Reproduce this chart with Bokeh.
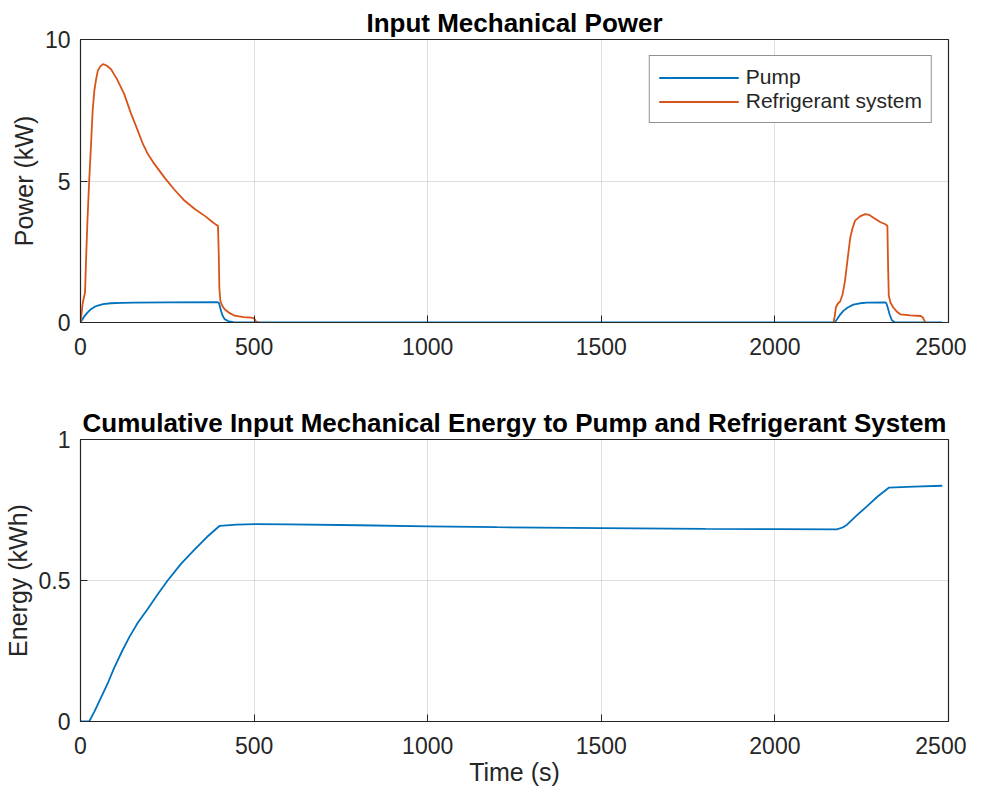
from bokeh.plotting import figure
from bokeh.layouts import column
from bokeh.models import FixedTicker, Range1d, Legend, LegendItem, NumeralTickFormatter
from bokeh.embed import file_html
from bokeh.resources import INLINE

# ---- data ----
time_ref = [0, 3, 6, 10, 13, 16, 20, 25, 30, 35, 40, 45, 50, 57, 65, 75, 88, 105, 126, 145,
            165, 180, 194, 210, 242, 270, 300, 330, 360, 380, 391, 396, 398, 400, 403, 408,
            415, 430, 444, 470, 492, 500, 506, 520, 800, 1200, 1600, 2000, 2168, 2172, 2176,
            2182, 2188, 2195, 2202, 2210, 2217, 2224, 2231, 2245, 2260, 2272, 2284, 2303, 2318,
            2324, 2326, 2328, 2333, 2341, 2350, 2361, 2390, 2420, 2426, 2434, 2450, 2482]
power_ref = [0, 0.3, 0.65, 0.9, 1.05, 2.2, 3.6, 5.0, 6.2, 7.5, 8.2, 8.6, 8.9, 9.05, 9.13, 9.08,
             8.95, 8.6, 8.07, 7.4, 6.78, 6.3, 5.95, 5.65, 5.12, 4.7, 4.3, 4.0, 3.75, 3.55, 3.45,
             3.42, 2.5, 1.2, 0.75, 0.6, 0.47, 0.33, 0.24, 0.19, 0.17, 0.15, 0.02, -0.03, -0.04,
             -0.04, -0.04, -0.04, -0.04, 0.2, 0.55, 0.68, 0.74, 1.0, 1.48, 2.3, 3.0, 3.35, 3.6,
             3.75, 3.83, 3.8, 3.7, 3.55, 3.47, 3.42, 2.0, 0.95, 0.7, 0.53, 0.4, 0.29, 0.25, 0.23,
             0.18, -0.02, -0.04, -0.04]

time_pump = [0, 5, 10, 15, 20, 30, 40, 50, 65, 87, 120, 155, 250, 395, 399, 402, 405, 409, 415,
             425, 440, 470, 1000, 2172, 2180, 2188, 2197, 2210, 2226, 2245, 2265, 2318, 2321,
             2325, 2330, 2337, 2345, 2482]
power_pump = [0, 0.1, 0.2, 0.28, 0.35, 0.47, 0.55, 0.6, 0.65, 0.68, 0.69, 0.7, 0.71, 0.72, 0.68,
              0.55, 0.4, 0.25, 0.12, 0.05, 0.015, 0, 0, 0, 0.13, 0.28, 0.41, 0.53, 0.63, 0.68,
              0.7, 0.71, 0.68, 0.53, 0.3, 0.08, 0.01, 0]

time_energy = [0, 25, 40, 59, 80, 97, 120, 141, 165, 194, 222, 251, 290, 329, 365, 401, 450, 502,
               600, 800, 1000, 1200, 1500, 1800, 2000, 2178, 2195, 2207, 2235, 2265, 2295, 2328,
               2400, 2482]
energy = [0, 0, 0.035, 0.085, 0.14, 0.19, 0.25, 0.30, 0.35, 0.40, 0.45, 0.50, 0.56, 0.61, 0.655,
          0.694, 0.698, 0.700, 0.699, 0.696, 0.692, 0.689, 0.686, 0.683, 0.682, 0.681, 0.688,
          0.697, 0.73, 0.763, 0.797, 0.829, 0.833, 0.836]

x_ticks = [0, 500, 1000, 1500, 2000, 2500]
power_ticks = [0, 5, 10]
energy_ticks = [0, 0.5, 1]

titles = ["Input Mechanical Power",
          "Cumulative Input Mechanical Energy to Pump and Refrigerant System"]
y_labels = ["Power (kW)", "Energy (kWh)"]
x_label = "Time (s)"
series_names = ["Pump", "Refrigerant system"]

BLUE = "#0072BD"
ORANGE = "#D95319"
AX = "#262626"
FONT = "Liberation Sans"


def style(p, yticks, fmt=None):
    p.title.align = "center"
    p.title.text_font = FONT
    p.title.text_font_size = "26px"
    p.title.text_font_style = "bold"
    p.title.text_color = "#000000"
    p.title.standoff = 4
    p.outline_line_color = AX
    p.outline_line_width = 1.2
    p.background_fill_color = "white"
    p.border_fill_color = "white"
    for ax in p.xaxis + p.yaxis:
        ax.major_label_text_font = FONT
        ax.major_label_text_font_size = "23px"
        ax.major_label_text_color = AX
        ax.axis_label_text_font = FONT
        ax.axis_label_text_font_size = "25px"
        ax.axis_label_text_font_style = "normal"
        ax.axis_label_text_color = AX
        ax.axis_line_color = AX
        ax.major_tick_line_color = AX
        ax.major_tick_in = 7
        ax.major_tick_out = 0
        ax.minor_tick_line_color = None
    p.xaxis.ticker = FixedTicker(ticks=x_ticks)
    p.yaxis.ticker = FixedTicker(ticks=yticks)
    p.xaxis.major_label_standoff = 15
    p.xaxis.axis_label_standoff = 1
    p.yaxis.major_label_standoff = 10
    p.yaxis.axis_label_standoff = 4
    if fmt is not None:
        p.yaxis.formatter = fmt
    p.xgrid.ticker = FixedTicker(ticks=x_ticks)
    p.ygrid.ticker = FixedTicker(ticks=yticks)
    for g in (p.xgrid, p.ygrid):
        g.grid_line_color = AX
        g.grid_line_alpha = 0.15
        g.grid_line_width = 1


p1 = figure(width=966, height=385, output_backend="svg", toolbar_location=None,
            x_range=Range1d(0, 2500), y_range=Range1d(0, 10),
            title=titles[0], min_border_left=75, min_border_right=18,
            min_border_top=39, min_border_bottom=63)
r_pump = p1.line(time_pump, power_pump, line_color=BLUE, line_width=1.8)
r_ref = p1.line(time_ref, power_ref, line_color=ORANGE, line_width=1.8)
p1.yaxis.axis_label = y_labels[0]
style(p1, power_ticks)

legend = Legend(items=[LegendItem(label=series_names[0], renderers=[r_pump]),
                       LegendItem(label=series_names[1], renderers=[r_ref])],
                location="top_right")
legend.margin = 16
legend.padding = 9
legend.spacing = 0
legend.glyph_width = 80
legend.glyph_height = 21
legend.label_height = 21
legend.label_standoff = 7
legend.label_text_font = FONT
legend.label_text_font_size = "21px"
legend.label_text_color = AX
legend.border_line_color = AX
legend.border_line_width = 1
legend.background_fill_color = "white"
legend.background_fill_alpha = 1
p1.add_layout(legend, "center")

p2 = figure(width=966, height=403, output_backend="svg", toolbar_location=None,
            x_range=Range1d(0, 2500), y_range=Range1d(0, 1),
            title=titles[1], min_border_left=75, min_border_right=18,
            min_border_top=54, min_border_bottom=66)
p2.line(time_energy, energy, line_color=BLUE, line_width=1.8)
p2.yaxis.axis_label = y_labels[1]
p2.xaxis.axis_label = x_label
style(p2, energy_ticks, NumeralTickFormatter(format="0.[0]"))

layout = column(p1, p2, spacing=0)
open("out.html", "w").write(file_html(layout, INLINE))
